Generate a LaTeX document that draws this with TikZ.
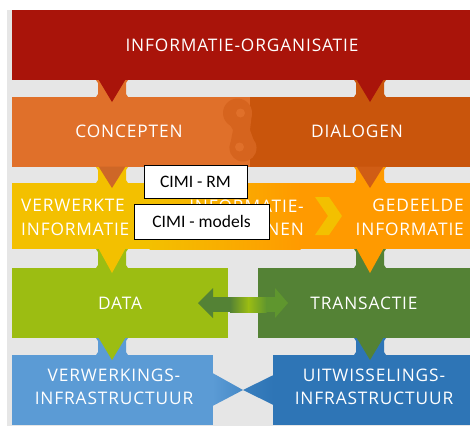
\documentclass[tikz,border=0pt]{standalone}
\usepackage{fontspec}
\setmainfont{Open Sans}
\newfontfamily\capfont[LetterSpace=5]{Open Sans}
\newfontfamily\lblfont{Carlito}
\definecolor{bggray}{HTML}{E6E6E6}
\definecolor{cred}{HTML}{A9140A}
\definecolor{corange}{HTML}{E0702A}
\definecolor{cdorange}{HTML}{C9550C}
\definecolor{cs}{HTML}{D6641E}
\definecolor{cyellow}{HTML}{F3C000}
\definecolor{cyorange}{HTML}{FF9A00}
\definecolor{clgreen}{HTML}{9CBD12}
\definecolor{cdgreen}{HTML}{548235}
\definecolor{carrow}{HTML}{5F962E}
\definecolor{clblue}{HTML}{5B9BD5}
\definecolor{cdblue}{HTML}{2E75B6}
\newcommand\tabptr[6]{%
  \fill[#4] ({#1-16},#2) -- ({#1+16},#2) -- ({#1+14},{#2+3}) -- ({#1+14},{#3-3}) -- ({#1+16},#3) -- ({#1-16},#3) -- ({#1-14},{#3-3}) -- ({#1-14},{#2+3}) -- cycle;
  \fill[#5] ({#1-13.5},{#2-0.5}) -- ({#1+13.5},{#2-0.5}) -- (#1,{#3+5}) -- cycle;
  \coordinate (#6) at (#1,{#3+5});
}
\tikzset{
  capt/.style={text=white, inner sep=0pt, font=\capfont\fontsize{17.3}{23.5}\selectfont},
  lbl/.style={draw=black, line width=0.8pt, fill=white, inner sep=0pt, font=\lblfont\fontsize{17.5}{20}\selectfont}
}
\begin{document}
\begin{tikzpicture}[x=1pt,y=-1pt]
\useasboundingbox (0,0) rectangle (470,426);
\fill[white] (0,0) rectangle (470,426);
\fill[bggray] (7,10) rectangle (470,426);
% bands
\fill[cred] (12,10) rectangle (470,80);
\fill[corange] (12,97) rectangle (250,167);
\fill[cdorange] (250,97) rectangle (470,167);
% S divider
\fill[cs] (237.5,113) circle (14.5);
\fill[cs] (243,148) circle (13.5);
\fill[cs] (223,113) -- (252,113) -- (250,130) -- (256.5,148) -- (229.5,148) -- (233,130) -- cycle;
\fill[corange] (240.5,113) circle (4.5);
\fill[corange] (239.5,147) circle (4.5);
% yellow band
\fill[cyellow] (12,183) rectangle (150,249);
\shade[left color=cyellow, right color=cyorange] (149.5,183) rectangle (300.5,249);
\fill[cyorange] (300,183) rectangle (470,249);
\fill[cyellow] (315,197) -- (329,197) -- (342,216) -- (329,235) -- (315,235) -- (328,216) -- cycle;
% data row
\fill[clgreen] (12,268) rectangle (228,338);
\fill[cdgreen] (258,268) rectangle (470,338);
% infra row
\fill[clblue] (12,355) rectangle (213,425);
\fill[cdblue] (273,355) rectangle (470,425);
\shade[left color=clblue, right color=clblue!55!cdblue] (212.5,373) -- (243,390) -- (212.5,406) -- cycle;
\shade[left color=cdblue!75!clblue, right color=cdblue] (243,390) -- (273.5,375) -- (273.5,405) -- cycle;
% pointers
\tabptr{112}{80}{97}{corange}{cred}{p1}
\tabptr{370}{80}{97}{cdorange}{cred}{p2}
\tabptr{112}{167}{183}{cyellow}{corange!92!black}{p3}
\tabptr{370}{167}{183}{cyorange}{cdorange!70!corange}{p4}
\tabptr{112}{249}{268}{clgreen}{cyellow}{p5}
\tabptr{370}{249}{268}{cdgreen}{cyorange}{p6}
\tabptr{112}{338}{355}{clblue}{clgreen}{p7}
\tabptr{370}{338}{355}{cdblue}{cdgreen}{p8}
% double arrow
\fill[cdgreen] (210,297) rectangle (230.5,312);
\shade[left color=cdgreen, right color=clgreen] (230,297) rectangle (248.5,312);
\shade[left color=clgreen, right color=carrow] (248,297) rectangle (266.5,312);
\fill[carrow] (266,297) rectangle (277,312);
\fill[cdgreen] (198,303) -- (213,288) -- (213,318) -- cycle;
\fill[carrow] (288,303) -- (275,288) -- (275,318) -- cycle;
% texts
\node[capt] (io) at (242,45) {INFORMATIE-ORGANISATIE};
\node[capt] (con) at (129,131) {CONCEPTEN};
\node[capt] (dia) at (357,131) {DIALOGEN};
\node[capt, anchor=west, align=left] (vi) at (21,217.5) {VERWERKTE\\INFORMATIE};
\node[capt, anchor=east, align=right] (ik) at (304,217.5) {INFORMATIE-\\KETENEN};
\node[capt, anchor=east, align=right] (gi) at (464,217.5) {GEDEELDE\\INFORMATIE};
\node[capt] (data) at (120,303.5) {DATA};
\node[capt] (tr) at (364,303.5) {TRANSACTIE};
\node[capt, align=center] (vinf) at (114,387) {VERWERKINGS-\\INFRASTRUCTUUR};
\node[capt, align=center] (uinf) at (374,387) {UITWISSELINGS-\\INFRASTRUCTUUR};
% labels
\node[lbl, minimum width=103pt, minimum height=33pt] (rm) at (195.5,181.5) {CIMI - RM};
\node[lbl, minimum width=135pt, minimum height=35pt] (mod) at (201.5,221.5) {CIMI - models};
\end{tikzpicture}
\end{document}
